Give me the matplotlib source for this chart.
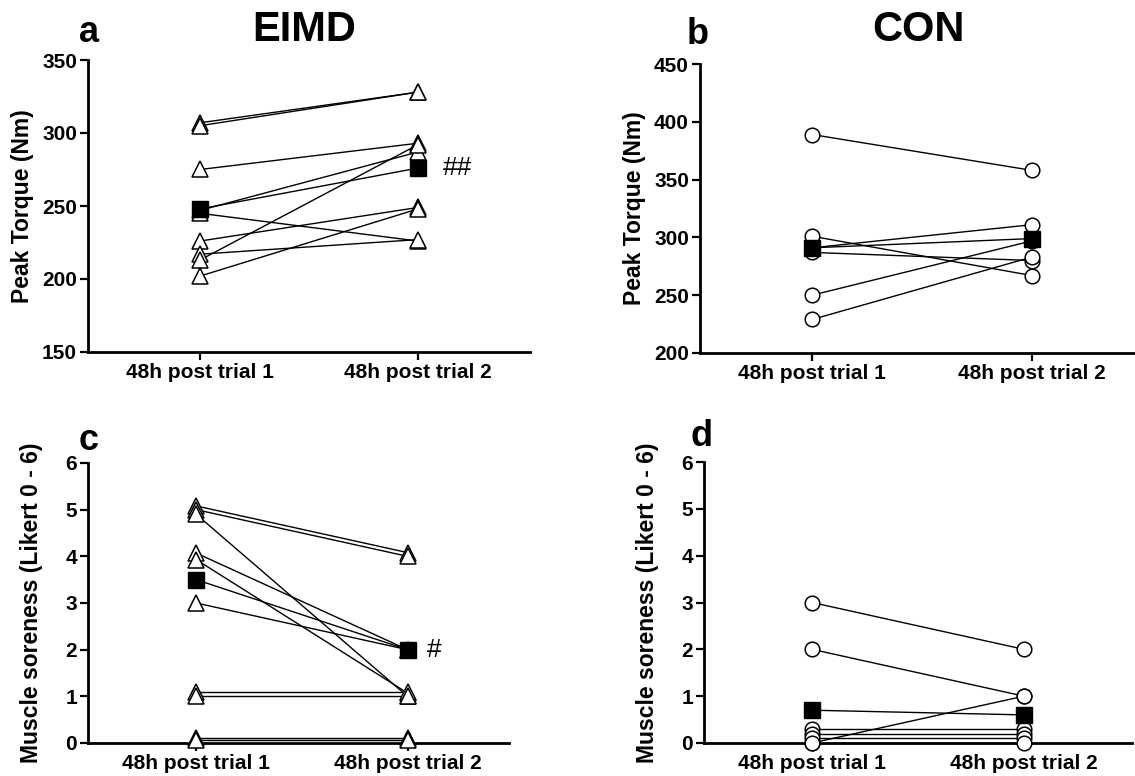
import matplotlib
matplotlib.use("Agg")
import matplotlib.pyplot as plt

plt.rcParams['font.family'] = ['Liberation Sans', 'DejaVu Sans']

categories = ["48h post trial 1", "48h post trial 2"]

# Panel a: EIMD peak torque (Nm), individual subjects
eimd_torque_t1 = [307, 305, 275, 247, 245, 226, 217, 213, 202]
eimd_torque_t2 = [328, 328, 293, 287, 226, 249, 227, 292, 248]
eimd_torque_mean = [248, 276]

# Panel b: CON peak torque (Nm)
con_torque_t1 = [389, 301, 291, 287, 250, 229]
con_torque_t2 = [358, 267, 311, 280, 297, 283]
con_torque_mean = [291, 299]

# Panel c: EIMD muscle soreness (Likert 0-6), slightly offset for visibility
eimd_sore_t1 = [5.08, 5.0, 4.9, 4.07, 3.93, 3.0, 1.1, 1.0, 0.1, 0.07]
eimd_sore_t2 = [4.08, 4.0, 1.0, 2.0, 1.07, 2.0, 1.1, 1.0, 0.1, 0.07]
eimd_sore_mean = [3.5, 2.0]

# Panel d: CON muscle soreness
con_sore_t1 = [3.0, 2.0, 0.0, 0.3, 0.2, 0.1, 0.0]
con_sore_t2 = [2.0, 1.0, 1.0, 0.3, 0.2, 0.1, 0.0]
con_sore_mean = [0.7, 0.6]

W, H = 1135, 776
fig = plt.figure(figsize=(W / 100, H / 100), dpi=100)

def px_axes(x0, y_top, x1, y_bot):
    return fig.add_axes([x0 / W, 1 - y_bot / H, (x1 - x0) / W, (y_bot - y_top) / H])

ax_a = px_axes(88, 60, 530, 352)
ax_b = px_axes(700, 64, 1144, 353)
ax_c = px_axes(88, 463, 509, 743)
ax_d = px_axes(704, 462, 1132, 743)

def draw(ax, t1, t2, mean, marker, ms, ylim, yticks, xlim):
    x = [0, 1]
    for a, b in zip(t1, t2):
        ax.plot(x, [a, b], color='black', lw=1.0, zorder=2, clip_on=False)
    for a, b in zip(t1, t2):
        ax.plot(x, [a, b], linestyle='none', marker=marker, ms=ms, mfc='white',
                mec='black', mew=1.1, zorder=3, clip_on=False)
    ax.plot(x, mean, color='black', lw=1.0, marker='s', ms=11.5, mfc='black',
            mec='black', zorder=4, clip_on=False)
    ax.set_xlim(*xlim)
    ax.set_ylim(*ylim)
    ax.set_yticks(yticks)
    ax.set_xticks(x)
    ax.set_xticklabels(categories)
    for s in ('top', 'right'):
        ax.spines[s].set_visible(False)
    for s in ('left', 'bottom'):
        ax.spines[s].set_linewidth(2.0)
        ax.spines[s].set_zorder(1)
    ax.tick_params(axis='both', direction='out', length=6, width=1.6,
                   labelsize=15, pad=2)
    for lab in ax.get_xticklabels() + ax.get_yticklabels():
        lab.set_fontweight('bold')

draw(ax_a, eimd_torque_t1, eimd_torque_t2, eimd_torque_mean, '^', 12,
     (150, 350), [150, 200, 250, 300, 350], (-0.514, 1.514))
draw(ax_b, con_torque_t1, con_torque_t2, con_torque_mean, 'o', 10.5,
     (200, 450), [200, 250, 300, 350, 400, 450], (-0.51, 1.51))
draw(ax_c, eimd_sore_t1, eimd_sore_t2, eimd_sore_mean, '^', 12,
     (0, 6), [0, 1, 2, 3, 4, 5, 6], (-0.512, 1.48))
draw(ax_d, con_sore_t1, con_sore_t2, con_sore_mean, 'o', 10.5,
     (0, 6), [0, 1, 2, 3, 4, 5, 6], (-0.51, 1.51))

ax_a.set_ylabel("Peak Torque (Nm)", fontsize=16.5, fontweight='bold', labelpad=6)
ax_b.set_ylabel("Peak Torque (Nm)", fontsize=16.5, fontweight='bold', labelpad=6)
ax_c.set_ylabel("Muscle soreness (Likert 0 - 6)", fontsize=16.5, fontweight='bold', labelpad=16)
ax_d.set_ylabel("Muscle soreness (Likert 0 - 6)", fontsize=16.5, fontweight='bold', labelpad=16)

# significance marks
ax_a.annotate("##", xy=(1, eimd_torque_mean[1]), xytext=(18, 0), textcoords='offset points',
              fontsize=19, va='center', ha='left')
ax_c.annotate("#", xy=(1, eimd_sore_mean[1]), xytext=(14, 0), textcoords='offset points',
              fontsize=19, va='center', ha='left')

# titles and panel letters
fig.text(304 / W, 1 - 30 / H, "EIMD", fontsize=30, fontweight='bold', ha='center', va='center')
fig.text(918 / W, 1 - 30 / H, "CON", fontsize=30, fontweight='bold', ha='center', va='center')
fig.text(89 / W, 1 - 33 / H, "a", fontsize=26, fontweight='bold', ha='center', va='center')
fig.text(698 / W, 1 - 34 / H, "b", fontsize=26, fontweight='bold', ha='center', va='center')
fig.text(89 / W, 1 - 440 / H, "c", fontsize=26, fontweight='bold', ha='center', va='center')
fig.text(702 / W, 1 - 436 / H, "d", fontsize=26, fontweight='bold', ha='center', va='center')

fig.savefig("out.png", dpi=100, facecolor='white')
